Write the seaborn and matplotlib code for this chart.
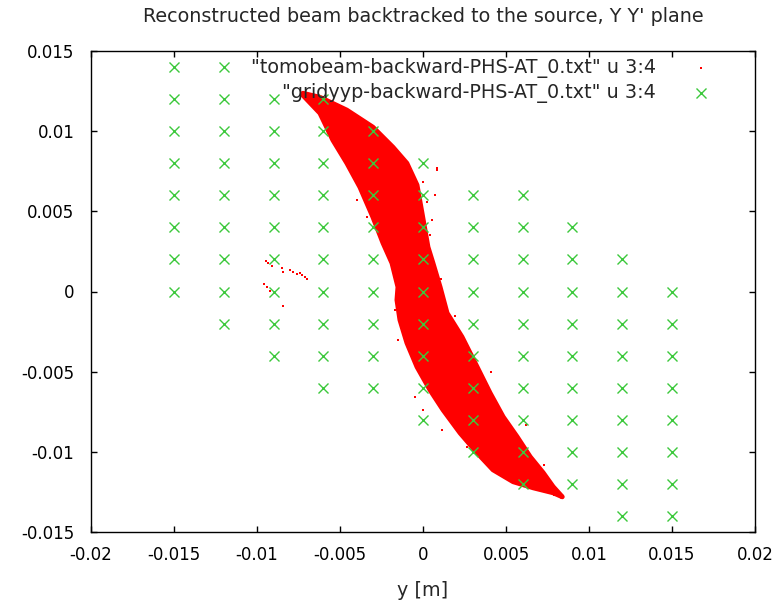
import matplotlib
matplotlib.use("Agg")
import matplotlib.pyplot as plt
import seaborn as sns
import pandas as pd

# ---------------- data ----------------
title_text = "Reconstructed beam backtracked to the source, Y Y' plane"
xlabel_text = "y [m]"
label_beam = '"tomobeam-backward-PHS-AT_0.txt" u 3:4'
label_grid = '"gridyyp-backward-PHS-AT_0.txt" u 3:4'

xtick_vals = [-0.02, -0.015, -0.01, -0.005, 0, 0.005, 0.01, 0.015, 0.02]
xtick_labels = ["-0.02", "-0.015", "-0.01", "-0.005", "0", "0.005", "0.01", "0.015", "0.02"]
ytick_vals = [-0.015, -0.01, -0.005, 0, 0.005, 0.01, 0.015]
ytick_labels = ["-0.015", "-0.01", "-0.005", "0", "0.005", "0.01", "0.015"]

# grid of test points (green crosses)
grid_x = (
    [-0.015] * 8 + [-0.012] * 9 + [-0.009] * 9 + [-0.006] * 10 + [-0.003] * 9 +
    [0.0] * 9 + [0.003] * 9 + [0.006] * 10 + [0.009] * 9 + [0.012] * 9 + [0.015] * 8
)
grid_y = [
    0.014, 0.012, 0.010, 0.008, 0.006, 0.004, 0.002, 0.000,
    0.014, 0.012, 0.010, 0.008, 0.006, 0.004, 0.002, 0.000, -0.002,
    0.012, 0.010, 0.008, 0.006, 0.004, 0.002, 0.000, -0.002, -0.004,
    0.012, 0.010, 0.008, 0.006, 0.004, 0.002, 0.000, -0.002, -0.004, -0.006,
    0.010, 0.008, 0.006, 0.004, 0.002, 0.000, -0.002, -0.004, -0.006,
    0.008, 0.006, 0.004, 0.002, 0.000, -0.002, -0.004, -0.006, -0.008,
    0.006, 0.004, 0.002, 0.000, -0.002, -0.004, -0.006, -0.008, -0.010,
    0.006, 0.004, 0.002, 0.000, -0.002, -0.004, -0.006, -0.008, -0.010, -0.012,
    0.004, 0.002, 0.000, -0.002, -0.004, -0.006, -0.008, -0.010, -0.012,
    0.002, 0.000, -0.002, -0.004, -0.006, -0.008, -0.010, -0.012, -0.014,
    0.000, -0.002, -0.004, -0.006, -0.008, -0.010, -0.012, -0.014,
]

# outline of the dense reconstructed beam cloud (red)
beam_outline_x = [
    -0.00724, -0.00621, -0.00459, -0.00302, -0.00181, -0.00097, -0.00036, -0.00006,
    0.00012, 0.00030, 0.00060, 0.00103, 0.00145, 0.00235, 0.00326, 0.00404,
    0.00483, 0.00567, 0.00646, 0.00724, 0.00784, 0.00839, 0.00784, 0.00664,
    0.00543, 0.00422, 0.00326, 0.00223, 0.00121, 0.00042, -0.00036, -0.00097,
    -0.00139, -0.00157, -0.00151, -0.00187, -0.00241, -0.00302, -0.00380, -0.00459,
    -0.00543, -0.00621, -0.00724,
]
beam_outline_y = [
    0.01235, 0.01210, 0.01130, 0.01024, 0.00899, 0.00799, 0.00663, 0.00489,
    0.00383, 0.00277, 0.00177, 0.00028, -0.00134, -0.00283, -0.00470, -0.00632,
    -0.00781, -0.00905, -0.01030, -0.01129, -0.01216, -0.01279, -0.01254, -0.01223,
    -0.01185, -0.01111, -0.01005, -0.00881, -0.00738, -0.00613, -0.00470, -0.00320,
    -0.00177, -0.00053, 0.00028, 0.00177, 0.00302, 0.00464, 0.00650, 0.00800,
    0.00943, 0.01111, 0.01223,
]

# isolated beam particles outside the dense core
stray_x = [
    -0.00935, -0.00911, -0.00947, -0.00851, -0.00845, -0.00802, -0.00784, -0.00760,
    -0.00730, -0.00712, -0.00700, -0.00742, -0.00959, -0.00941, -0.00923, -0.00845,
    0.00084, 0.00072, 0.00054, 0.00024, 0.00084, 0.00000, -0.00398, -0.00338,
    -0.00169, -0.00151, -0.00048, 0.00000, 0.00115, 0.00265, 0.00827, 0.00790,
    -0.00560, -0.00500, 0.00040, 0.00110, 0.00190, 0.00410, 0.00620, 0.00730,
]
stray_y = [
    0.00177, 0.00159, 0.00190, 0.00146, 0.00121, 0.00134, 0.00121, 0.00109,
    0.00103, 0.00090, 0.00078, 0.00115, 0.00047, 0.00028, 0.00003, -0.00090,
    0.00756, 0.00600, 0.00445, 0.00557, 0.00768, 0.00681, 0.00569, 0.00464,
    -0.00115, -0.00302, -0.00657, -0.00737, -0.00862, -0.00968, -0.01279, -0.01265,
    0.01030, 0.00870, 0.00350, 0.00080, -0.00150, -0.00500, -0.00830, -0.01080,
]

# ---------------- figure ----------------
sns.set_style("ticks")
plt.rcParams["font.family"] = ["DejaVu Sans"]

fig = plt.figure(figsize=(7.76, 6.03), dpi=100)
ax = fig.add_axes([91 / 776, 1 - 532.3 / 603, (755 - 91) / 776, (532.3 - 50.7) / 603])

ax.fill(beam_outline_x, beam_outline_y, facecolor="#ff0000", edgecolor="#ff0000",
        lw=3.5, joinstyle="round", zorder=2)

stray_df = pd.DataFrame({"x": stray_x, "y": stray_y})
sns.scatterplot(data=stray_df, x="x", y="y", ax=ax, color="#ff0000", marker="s",
                s=2.5, linewidth=0, label=label_beam, zorder=3)

grid_df = pd.DataFrame({"x": grid_x, "y": grid_y})
sns.scatterplot(data=grid_df, x="x", y="y", ax=ax, color="#3cc83c", marker="x",
                s=52, linewidth=1.0, label=label_grid, zorder=4)

ax.set_xlim(-0.02, 0.02)
ax.set_ylim(-0.015, 0.015)
ax.set_xticks(xtick_vals)
ax.set_xticklabels(xtick_labels)
ax.set_yticks(ytick_vals)
ax.set_yticklabels(ytick_labels)
ax.tick_params(direction="in", length=4.5, width=1, top=True, right=True,
               labelsize=12, colors="black", pad=10)
ax.tick_params(axis="y", pad=12)
for sp in ax.spines.values():
    sp.set_visible(True)
    sp.set_color("black")
    sp.set_linewidth(1)

ax.set_title(title_text, fontsize=13.8, pad=21)
ax.set_xlabel(xlabel_text, fontsize=13.8, labelpad=12)
ax.set_ylabel("")

leg = ax.legend(loc="upper right", bbox_to_anchor=(0.973, 1.02), frameon=False,
                markerfirst=False, fontsize=13.8, handlelength=2.0, handletextpad=1.32,
                labelspacing=0.22, borderpad=0.4, markerscale=1.0)

fig.savefig("out.png", dpi=100)
